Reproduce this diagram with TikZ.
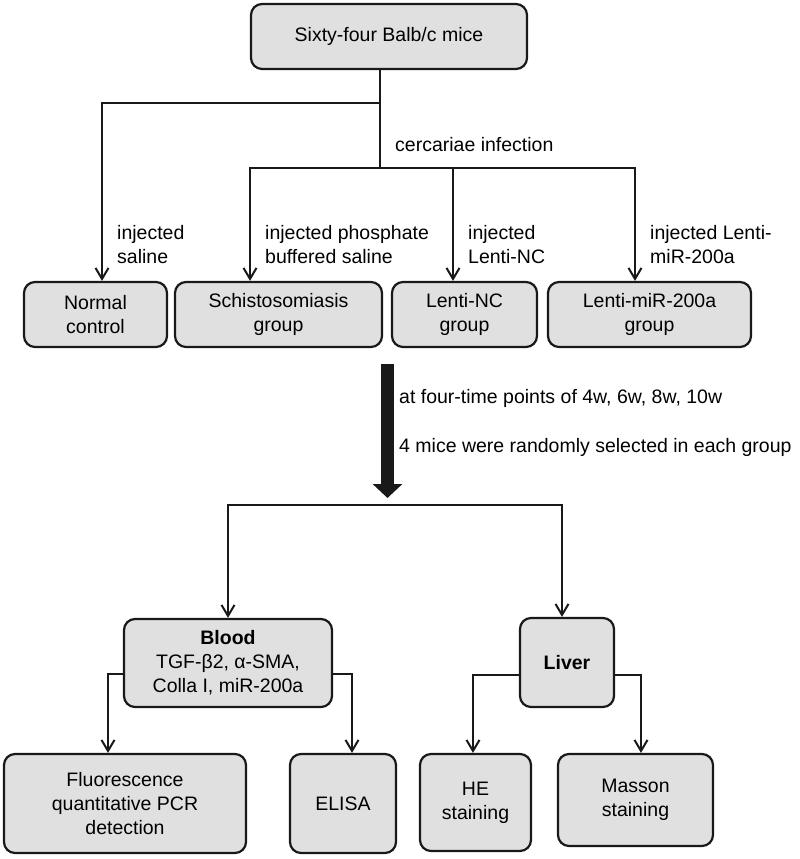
\documentclass[tikz,border=0pt]{standalone}
\usepackage{fontspec}
\setmainfont{Liberation Sans}
\usetikzlibrary{arrows.meta}
\definecolor{boxgray}{RGB}{224,224,224}
\definecolor{ink}{RGB}{25,25,25}
\begin{document}
\begin{tikzpicture}[x=1pt,y=-1pt,
  box/.style={draw=ink, fill=boxgray, line width=2.2pt, rounded corners=11pt, align=center, inner sep=0pt, font=\fontsize{19.5}{24}\selectfont},
  lbl/.style={anchor=west, align=left, inner sep=0pt, font=\fontsize{19.5}{24}\selectfont},
  conn/.style={draw=ink, line width=2pt},
  arr/.style={conn, -{Straight Barb[length=11pt,width=13pt]}},
  bigarrow/.style={draw=ink, line width=13pt, -{Triangle[length=14pt,width=29pt]}}
]
\path[use as bounding box] (0,0) rectangle (800,859);

% boxes
\node[box, minimum width=276pt, minimum height=65pt] (top) at (389,36.5) {Sixty-four Balb/c mice};
\node[box, minimum width=143pt, minimum height=65pt] (normal) at (95.5,314.5) {Normal\\control};
\node[box, minimum width=207pt, minimum height=65pt] (schisto) at (278.5,314.5) {Schistosomiasis\\group};
\node[box, minimum width=145pt, minimum height=65pt] (lnc) at (464.5,314.5) {Lenti-NC\\group};
\node[box, minimum width=203pt, minimum height=65pt] (lmir) at (649.5,314.5) {Lenti-miR-200a\\group};
\node[box, minimum width=208pt, minimum height=88pt] (blood) at (228,663) {\textbf{Blood}\\TGF-β2, α-SMA,\\Colla I, miR-200a};
\node[box, minimum width=94pt, minimum height=89pt] (liver) at (567,662.5) {\textbf{Liver}};
\node[box, minimum width=242pt, minimum height=99pt] (fluor) at (125,803.5) {Fluorescence\\quantitative PCR\\detection};
\node[box, minimum width=106pt, minimum height=99pt] (elisa) at (343,803.5) {ELISA};
\node[box, minimum width=111pt, minimum height=97pt] (he) at (475.5,802.5) {HE\\staining};
\node[box, minimum width=155pt, minimum height=92pt] (masson) at (635.5,800) {Masson\\staining};

% helper coordinates
\coordinate (j1) at (380,103);
\coordinate (j2) at (380,168);
\coordinate (xa) at (102,0);
\coordinate (xb) at (250,0);
\coordinate (xc) at (453,0);
\coordinate (xd) at (635,0);
\coordinate (ba) at (387.5,364);
\coordinate (bb) at (387.5,498);
\coordinate (j3) at (395,505);
\coordinate (xl) at (562,0);
\coordinate (yb) at (0,674);
\coordinate (yl) at (0,675);
\coordinate (xf) at (108,0);
\coordinate (xe) at (352,0);
\coordinate (xh) at (473,0);
\coordinate (xm) at (641,0);

% connectors
\draw[conn] (top.south -| j1) -- (j2);
\draw[arr] (j1) -| (normal.north -| xa);
\draw[arr] (j2) -| (schisto.north -| xb);
\draw[arr] (j2 -| xc) -- (lnc.north -| xc);
\draw[arr] (j2) -| (lmir.north -| xd);

\draw[bigarrow] (ba) -- (bb);

\draw[arr] (j3) -| (blood.north);
\draw[arr] (j3) -| (liver.north -| xl);
\draw[arr] (blood.west |- yb) -| (fluor.north -| xf);
\draw[arr] (blood.east |- yb) -| (elisa.north -| xe);
\draw[arr] (liver.west |- yl) -| (he.north -| xh);
\draw[arr] (liver.east |- yl) -| (masson.north -| xm);

% labels
\node[lbl] (cerc) at (395,145) {cercariae infection};
\node[lbl] (l1) at (117,245) {injected\\saline};
\node[lbl] (l2) at (265,245) {injected phosphate\\buffered saline};
\node[lbl] (l3) at (468,245) {injected\\Lenti-NC};
\node[lbl] (l4) at (650,245) {injected Lenti-\\miR-200a};
\node[lbl] (t1) at (399,398) {at four-time points of 4w, 6w, 8w, 10w};
\node[lbl] (t2) at (399,447) {4 mice were randomly selected in each group};
\end{tikzpicture}
\end{document}
